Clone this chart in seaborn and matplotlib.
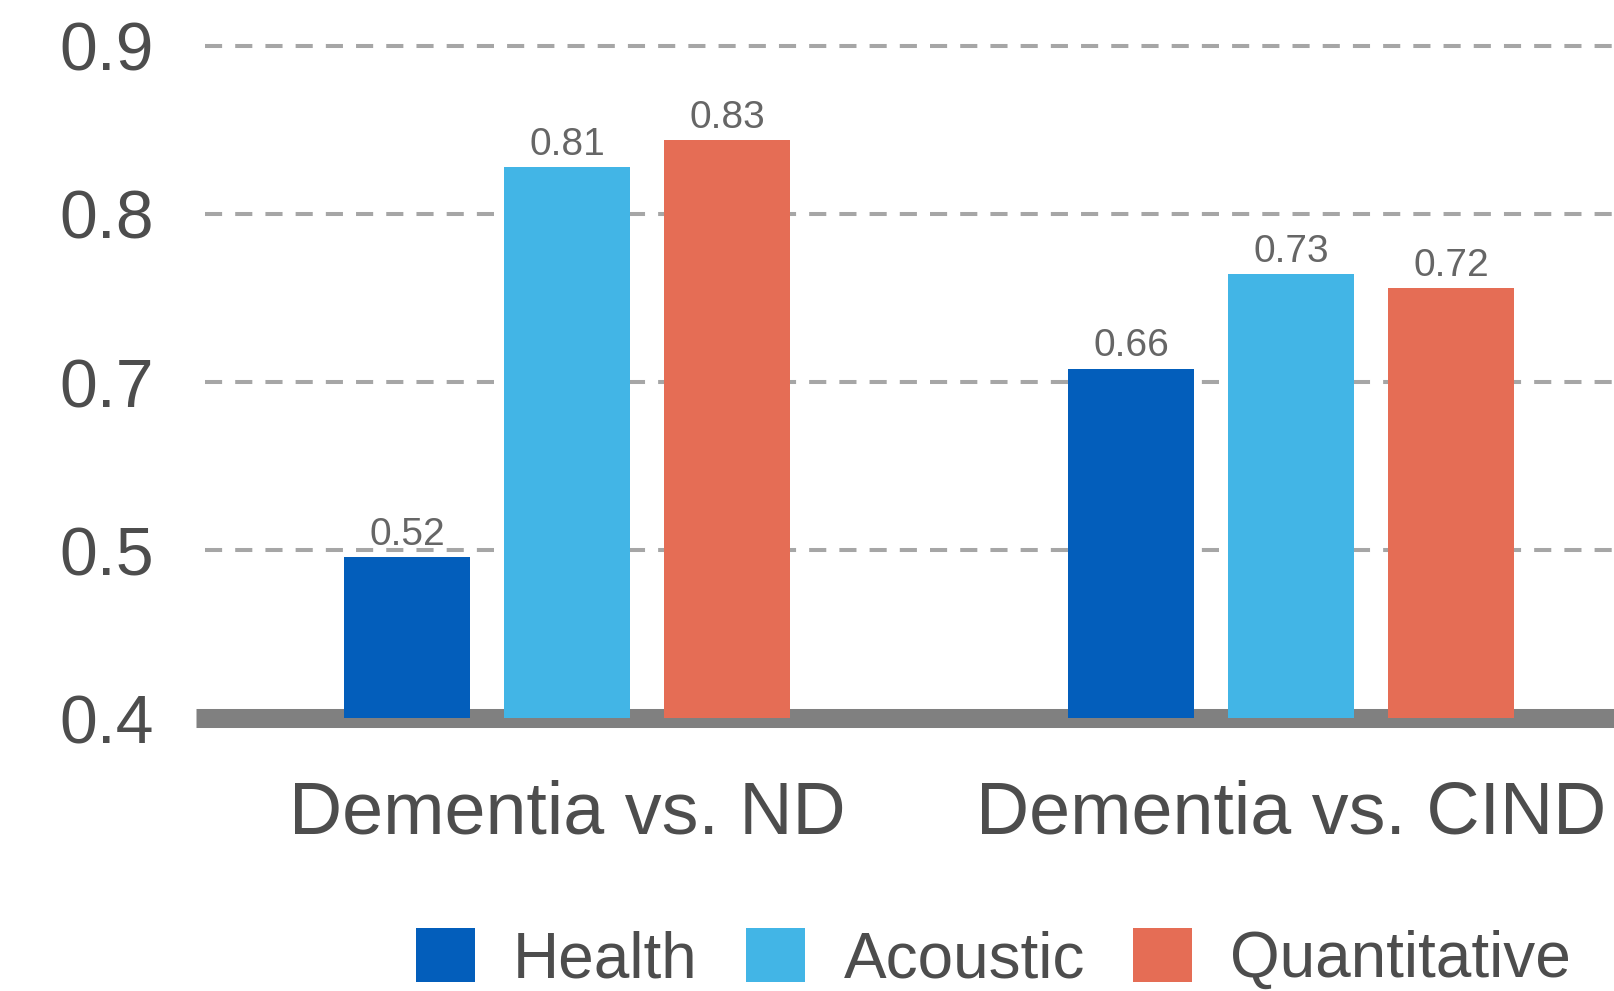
import numpy as np
import pandas as pd
import matplotlib
matplotlib.use('Agg')
import matplotlib.pyplot as plt
from matplotlib.patches import Patch
import seaborn as sns

categories = ['Dementia vs. ND', 'Dementia vs. CIND']
series = ['Health', 'Acoustic', 'Quantitative']
health = [0.52, 0.66]
acoustic = [0.81, 0.73]
quantitative = [0.83, 0.72]
y_tick_labels = ['0.4', '0.5', '0.7', '0.8', '0.9']
colors = ['#035EBB', '#42B5E6', '#E56D55']

df = pd.DataFrame({
    'category': categories * 3,
    'series': np.repeat(series, len(categories)),
    'value': health + acoustic + quantitative,
})

sns.set_theme(style='white')
plt.rcParams['font.family'] = ['Liberation Sans', 'DejaVu Sans']

W, H = 1615, 991
fig = plt.figure(figsize=(W / 100, H / 100), dpi=100)
left, right = 205, 1653
y04 = 718
px_per = 168 / 0.125
ytop_val = 0.92
ytop = y04 - (ytop_val - 0.4) * px_per
ax = fig.add_axes([left / W, 1 - y04 / H, (right - left) / W, (y04 - ytop) / H])

sns.barplot(data=df, x='category', y='value', hue='series', palette=colors,
            width=0.663, gap=0.213, saturation=1, errorbar=None,
            legend=False, ax=ax, zorder=3, linewidth=0, edgecolor='none')

ax.set_xlim(-0.5, 1.5)
ax.set_ylim(0.4, ytop_val)
ax.set_yticks(np.linspace(0.4, 0.9, len(y_tick_labels)), y_tick_labels)
ax.set_xlabel('')
ax.set_ylabel('')
for s in ax.spines.values():
    s.set_visible(False)
ax.yaxis.grid(True, color='#a6a6a6', lw=2.9, linestyle=(0, (4.25, 3.25)))
ax.xaxis.grid(False)
ax.set_axisbelow(True)
ax.plot([-0.5 - 9 / 724, 1.5], [0.4, 0.4], color='#808080', lw=13.7,
        solid_capstyle='butt', clip_on=False, zorder=2)

for c in ax.containers:
    ax.bar_label(c, fmt='%.2f', padding=3, fontsize=28, color='#666666')

ax.tick_params(axis='y', length=0, pad=37, labelsize=49, labelcolor='#4d4d4d')
ax.tick_params(axis='x', length=0, pad=44, labelsize=53, labelcolor='#4d4d4d')

handles = [Patch(facecolor=c, edgecolor='none') for c in colors]
fig.legend(handles, series, loc='lower left', bbox_to_anchor=(416 / W, 1 / H),
           ncol=3, frameon=False, fontsize=46, handlelength=0.92,
           handleheight=0.92, handletextpad=0.6, columnspacing=0.76,
           borderpad=0, borderaxespad=0, labelcolor='#4d4d4d')

fig.savefig('out.png', dpi=100)
